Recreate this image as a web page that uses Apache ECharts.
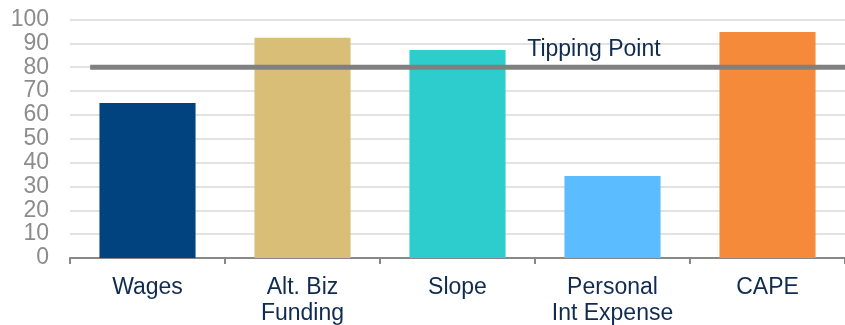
<!DOCTYPE html>
<html>
<head>
<meta charset="utf-8">
<script src="https://cdn.jsdelivr.net/npm/echarts@6/dist/echarts.min.js"></script>
<style>
  html, body { margin: 0; padding: 0; background: #fff; }
  #chart { width: 845px; height: 325px; }
</style>
</head>
<body>
<div id="chart"></div>
<script>
// data
const categories = ["Wages", "Alt. Biz\nFunding", "Slope", "Personal\nInt Expense", "CAPE"];
const scores = [65, 92.4, 87.2, 34.4, 94.8];
const barColors = ["#00437F", "#D9BE78", "#2ECDCD", "#5BBDFF", "#F68A3B"];
const tippingPoint = 80;
const tippingSpan = [0.13, 5]; // in category units, on the hidden helper axis
const tippingLabelAt = [3.38, 87.4];

const chart = echarts.init(document.getElementById("chart"));

chart.setOption({
  animation: false,
  grid: {
    left: 70, right: 0, top: 19.5, bottom: 67,
    containLabel: false,
    outerBoundsMode: "none" // keep the plot box where it is, labels may run to the edge
  },
  xAxis: [
    {
      type: "category",
      data: categories,
      axisLine: { lineStyle: { color: "#888", width: 2 } },
      axisTick: { show: true, length: 6, lineStyle: { color: "#888", width: 2 } },
      axisLabel: {
        color: "#0F2B4F",
        fontFamily: "Liberation Sans, Arial, sans-serif",
        fontSize: 23,
        lineHeight: 26,
        margin: 17,
        interval: 0
      }
    },
    {
      // helper axis so the tipping line can start part-way into the first slot
      type: "value",
      min: 0,
      max: 5,
      show: false
    }
  ],
  yAxis: {
    type: "value",
    min: 0,
    max: 100,
    interval: 10,
    axisLine: { show: false },
    axisTick: { show: false },
    splitLine: { lineStyle: { color: "#D9D9D9", width: 1.5 } },
    axisLabel: {
      color: "#8C8C8C",
      fontFamily: "Liberation Sans, Arial, sans-serif",
      fontSize: 23,
      margin: 21
    }
  },
  series: [
    {
      type: "bar",
      barWidth: "62%",
      data: scores.map((v, i) => ({ value: v, itemStyle: { color: barColors[i] } }))
    },
    {
      type: "line",
      xAxisIndex: 1,
      symbol: "none",
      lineStyle: { color: "#808080", width: 5 },
      data: tippingSpan.map((x) => [x, tippingPoint]),
      markPoint: {
        symbol: "circle",
        symbolSize: 0,
        data: [{ coord: tippingLabelAt, value: "Tipping Point" }],
        label: {
          show: true,
          formatter: "Tipping Point",
          color: "#0F2B4F",
          fontFamily: "Liberation Sans, Arial, sans-serif",
          fontSize: 23
        }
      }
    }
  ]
});
</script>
</body>
</html>
